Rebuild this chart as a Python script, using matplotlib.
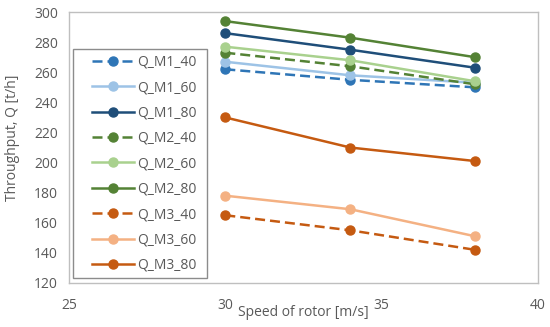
import matplotlib.pyplot as plt
from matplotlib.patches import Rectangle

# Datos
speed = [30, 34, 38]

q_m1_40 = [262, 255, 250]
q_m1_60 = [267, 258, 253]
q_m1_80 = [286, 275, 263]
q_m2_40 = [273, 264, 252]
q_m2_60 = [277, 268, 254]
q_m2_80 = [294, 283, 270]
q_m3_40 = [165, 155, 142]
q_m3_60 = [178, 169, 151]
q_m3_80 = [230, 210, 201]

labels = ["Q_M1_40", "Q_M1_60", "Q_M1_80",
          "Q_M2_40", "Q_M2_60", "Q_M2_80",
          "Q_M3_40", "Q_M3_60", "Q_M3_80"]
series = [q_m1_40, q_m1_60, q_m1_80,
          q_m2_40, q_m2_60, q_m2_80,
          q_m3_40, q_m3_60, q_m3_80]
colors = ["#2E75B6", "#9DC3E6", "#1F4E79",
          "#548235", "#A9D18E", "#548235",
          "#C55A11", "#F4B183", "#C55A11"]
styles = ["--", "-", "-", "--", "-", "-", "--", "-", "-"]

plt.rcParams['font.family'] = ['Open Sans', 'DejaVu Sans']
text_color = "#595959"

fig = plt.figure(figsize=(5.5, 3.27), dpi=100)
ax = fig.add_axes([0.1255, 0.1346, 0.8525, 0.8284])

for y, lab, c, ls in zip(series, labels, colors, styles):
    ax.plot(speed, y, color=c, linestyle=ls, linewidth=1.8, marker='o',
            markersize=6.5, label=lab, dashes=(4, 2) if ls == "--" else (None, None))

ax.set_xlim(25, 40)
ax.set_ylim(120, 300)
ax.set_xticks([25, 30, 35, 40])
ax.set_yticks(range(120, 301, 20))
ax.tick_params(length=0, labelsize=10, colors=text_color)
ax.tick_params(axis='x', pad=11)
ax.tick_params(axis='y', pad=8)
for s in ax.spines.values():
    s.set_color("#BFBFBF")
    s.set_linewidth(1.0)

ax.set_xlabel("Speed of rotor [m/s]", fontsize=10, color=text_color)
ax.set_ylabel("Throughput, Q [t/h]", fontsize=10, color=text_color)
ax.xaxis.set_label_coords(0.5, -0.081)
ax.yaxis.set_label_coords(-0.1045, 0.535)

# marco de la leyenda dibujado aparte
ax.add_patch(Rectangle((0.0085, 0.0185), 0.2855, 0.845, transform=ax.transAxes,
                       facecolor='white', edgecolor="#8C8C8C", linewidth=1.0, zorder=4))

leg = ax.legend(loc='upper left', bbox_to_anchor=(0.049, 0.843), fontsize=10,
                handlelength=3.0, handletextpad=0.25, labelspacing=0.75,
                frameon=False, borderpad=0, borderaxespad=0)
leg.set_zorder(5)
for t in leg.get_texts():
    t.set_color(text_color)

fig.savefig("out.png", dpi=100)
